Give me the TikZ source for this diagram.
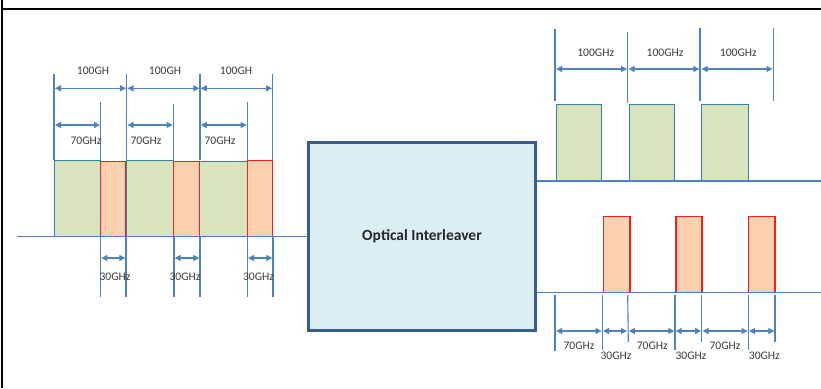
\documentclass[tikz,border=0pt]{standalone}
\usepackage{fontspec}
\setmainfont{Carlito}
\usetikzlibrary{arrows.meta}
\definecolor{lblue}{HTML}{4F81BD}
\definecolor{gfill}{HTML}{D7E4BD}
\definecolor{gdraw}{HTML}{31859C}
\definecolor{rfill}{HTML}{FBD0AE}
\definecolor{rdraw}{HTML}{F02020}
\definecolor{bfill}{HTML}{DBEEF4}
\definecolor{bdraw}{HTML}{385D8A}
\definecolor{txt}{HTML}{3A3A3A}
\tikzset{
  fibre/.style={draw=lblue, line width=1.3pt},
  tick/.style={draw=lblue, line width=1.1pt},
  dim/.style={draw=lblue, line width=1.3pt, {Triangle[length=6pt,width=6pt]}-{Triangle[length=6pt,width=6pt]}},
  gbox/.style={draw=gdraw, fill=gfill, line width=1pt},
  rbox/.style={draw=rdraw, fill=rfill, line width=1.2pt},
  lbl/.style={text=txt, font=\fontsize{11.6}{13}\selectfont, inner sep=0pt},
}
\begin{document}
\begin{tikzpicture}[x=1pt,y=-1pt]
\useasboundingbox (0,0) rectangle (821,388);
% frame
\draw[black, line width=2.2pt] (2,0) -- (2,388);
\draw[black, line width=2.2pt] (2,9) -- (821,9);

% interleaver box
\node[draw=bdraw, fill=bfill, line width=2.6pt, minimum width=227pt, minimum height=188pt, inner sep=0pt,
  font=\bfseries\fontsize{15.5}{17}\selectfont, text=black!85] (ilv) at (422,236.7) {Optical Interleaver};

% fibres
\coordinate (inL) at (17,236.7);
\coordinate (o1) at (821,181);
\coordinate (o2) at (821,292.3);

% ---------- left input spectrum ----------
\draw[gbox] (54,160) rectangle (100.7,236.7);
\draw[gbox] (126.5,160.5) rectangle (173.7,236.7);
\draw[gbox] (199.7,161) rectangle (247.2,236.7);
\draw[rbox] (100.7,161.7) rectangle (125.7,236.7);
\draw[rbox] (173.7,161.7) rectangle (199.5,236.7);
\draw[rbox] (247.2,160.3) rectangle (272.7,236.7);
\draw[fibre] (inL) -- (ilv.west |- inL);

% ticks above
\foreach \x in {54,126.7,200,272.7} \draw[tick] (\x,74) -- (\x,160);
\foreach \x/\y in {100.7/102,173.3/104,247.3/102} \draw[tick] (\x,\y) -- (\x,160);
% 100GH arrows
\draw[dim] (55,88.3) -- (126,88.3);
\draw[dim] (127.5,88.3) -- (199.3,88.3);
\draw[dim] (200.8,88.3) -- (272,88.3);
\node[lbl] at (93,71) {100GH};
\node[lbl] at (165,71) {100GH};
\node[lbl] at (236,71) {100GH};
% 70GHz arrows
\draw[dim] (55,125) -- (100,125);
\draw[dim] (127.5,125) -- (172.6,125);
\draw[dim] (200.8,125) -- (246.6,125);
\node[lbl] at (86,141) {70GHz};
\node[lbl] at (146,141) {70GHz};
\node[lbl] at (220,141) {70GHz};
% ticks below
\foreach \x in {100.7,126,174,200,247.3,273} \draw[tick] (\x,236.7) -- (\x,297);
\draw[dim] (101.4,258) -- (125.3,258);
\draw[dim] (174.7,258) -- (199.3,258);
\draw[dim] (248,258) -- (272.3,258);
\node[lbl] at (115,277) {30GHz};
\node[lbl] at (185,277) {30GHz};
\node[lbl] at (258.5,277) {30GHz};

% ---------- top right output ----------
\draw[gbox] (556.7,104.3) rectangle (601.7,181);
\draw[gbox] (629.3,104.3) rectangle (674.7,181);
\draw[gbox] (701.7,104.3) rectangle (748.3,181);
\draw[fibre] (ilv.east |- o1) -- (o1);
\draw[tick] (555,29) -- (555,101);
\draw[tick] (627.7,31.7) -- (627.7,103);
\draw[tick] (700,28) -- (700,101);
\draw[tick] (773.3,28) -- (773.3,101);
\draw[dim] (556,69) -- (627,69);
\draw[dim] (628.5,69) -- (699.3,69);
\draw[dim] (701.5,69) -- (772.5,69);
\node[lbl] at (595.7,52.3) {100GHz};
\node[lbl] at (665,52.3) {100GHz};
\node[lbl] at (738.3,52.3) {100GHz};

% ---------- bottom right output ----------
\draw[rbox] (603.3,216.7) rectangle (630,292.3);
\draw[rbox] (676,216.7) rectangle (702,292.3);
\draw[rbox] (748.3,216.7) rectangle (775,292.3);
\draw[fibre] (ilv.east |- o2) -- (o2);
\draw[tick] (555,295) -- (555,351);
\draw[tick] (602.3,295) -- (602.3,350);
\draw[tick] (627.7,295) -- (628.3,342);
\draw[tick] (675,295) -- (675,350);
\draw[tick] (701.7,295) -- (701.7,342);
\draw[tick] (748.3,295) -- (748.3,350);
\draw[tick] (775,295) -- (775,342);
\draw[dim] (556,331) -- (601.6,331);
\draw[dim] (603,331) -- (627,331);
\draw[dim] (628.8,331) -- (674.3,331);
\draw[dim] (675.7,331) -- (701,331);
\draw[dim] (702.5,331) -- (747.6,331);
\draw[dim] (749,331) -- (774.3,331);
\node[lbl] at (579,345.7) {70GHz};
\node[lbl] at (652.3,345.7) {70GHz};
\node[lbl] at (725,345.7) {70GHz};
\node[lbl] at (616,355.7) {30GHz};
\node[lbl] at (691,355.7) {30GHz};
\node[lbl] at (764.3,355.7) {30GHz};
\end{tikzpicture}
\end{document}
